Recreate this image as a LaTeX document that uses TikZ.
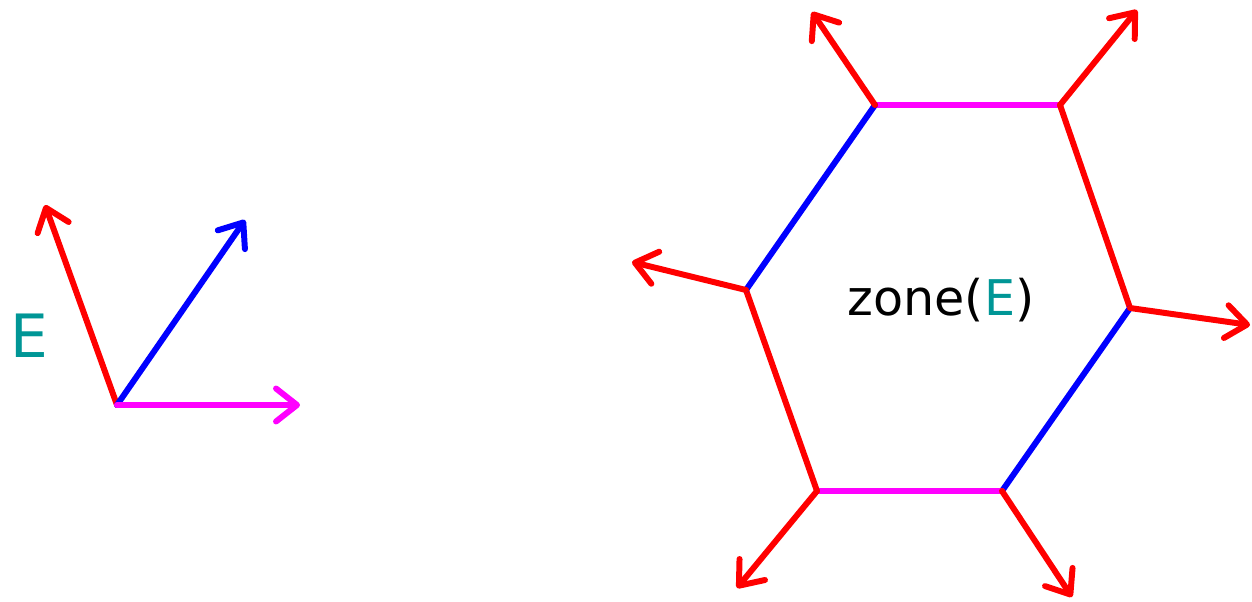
\documentclass[tikz,border=0pt]{standalone}
\usepackage{fontspec}
\setsansfont{DejaVu Sans}
\usetikzlibrary{arrows.meta}
\definecolor{tealE}{RGB}{0,150,150}
\definecolor{magE}{RGB}{255,0,255}
\definecolor{redE}{RGB}{255,0,0}
\definecolor{blueE}{RGB}{0,0,255}

\begin{document}
\begin{tikzpicture}[
    x=0.02cm, y=-0.02cm,
    seg/.style={line width=3.4pt, line cap=round},
    vec/.style={seg, -{Straight Barb[length=0.42cm, width=0.66cm, line width=3.4pt, round]}},
    redv/.style={vec, redE},
    bluev/.style={vec, blueE},
    magv/.style={vec, magE},
    label_node/.style={font=\sffamily\fontsize{34}{40}\selectfont, inner sep=0pt}
]
    \useasboundingbox (0,0) rectangle (1252,602);

    % left: the three vectors
    \coordinate (o) at (117,405);
    \coordinate (tr) at (45,205);
    \coordinate (tb) at (245,220);
    \coordinate (tm) at (300,405);
    \draw[redv] (o) -- (tr);
    \draw[bluev] (o) -- (tb);
    \draw[magv] (o) -- (tm);
    \node[label_node, text=tealE] (elabel) at (29,336) {E};

    % right: the zone
    \coordinate (p1) at (875,105);
    \coordinate (p2) at (1060,105);
    \coordinate (p3) at (1130,308);
    \coordinate (p4) at (1002,491);
    \coordinate (p5) at (817,491);
    \coordinate (p6) at (746,290);
    \draw[seg, magE] (p1) -- (p2);
    \draw[seg, redE] (p2) -- (p3);
    \draw[seg, blueE] (p3) -- (p4);
    \draw[seg, magE] (p4) -- (p5);
    \draw[seg, redE] (p5) -- (p6);
    \draw[seg, blueE] (p6) -- (p1);

    \coordinate (q1) at (812,12);
    \coordinate (q2) at (1137,10);
    \coordinate (q3) at (1250,325);
    \coordinate (q4) at (1072,597);
    \coordinate (q5) at (737,588);
    \coordinate (q6) at (632,262);
    \foreach \i in {1,...,6}
        \draw[redv] (p\i) -- (q\i);

    \node[label_node, font=\sffamily\fontsize{28}{34}\selectfont] (zone) at (941,300) {zone(\textcolor{tealE}{E})};
\end{tikzpicture}
\end{document}
